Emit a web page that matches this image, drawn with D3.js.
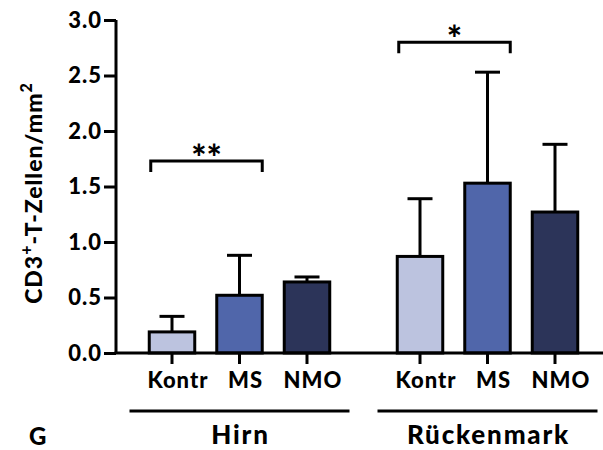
<!DOCTYPE html>
<html><head><meta charset="utf-8">
<script src="https://cdn.jsdelivr.net/npm/d3@7"></script>
<style>
html,body{margin:0;padding:0;background:#fff;}
text{font-family:Lato, "Open Sans", sans-serif;font-weight:900;fill:#000;}
</style></head>
<body><svg id="c" width="603" height="450"></svg>
<script>
const groups = ["Hirn", "Rückenmark"];
const categories = ["Kontr", "MS", "NMO"];
const hirnMeans = [0.19, 0.52, 0.64];
const hirnErrors = [0.14, 0.36, 0.045];
const rueckenmarkMeans = [0.87, 1.53, 1.27];
const rueckenmarkErrors = [0.52, 1.0, 0.61];
const yTicks = [0, 0.5, 1.0, 1.5, 2.0, 2.5, 3.0];
const significance = [
  {group: "Hirn", from: "Kontr", to: "MS", level: 1.73, label: "**"},
  {group: "Rückenmark", from: "Kontr", to: "MS", level: 2.80, label: "*"}
];
const colors = ["#bcc3df", "#5066aa", "#2c3459"];

const svg = d3.select("#c");
const axisX0 = 116, axisY0 = 353, yTop = 20;

const y = d3.scaleLinear().domain([0, 3]).range([axisY0, yTop]);
const xGroup = d3.scaleBand().domain(groups).range([138.25, 588.75]).paddingInner(0.1835).paddingOuter(0);
const xCat = d3.scaleBand().domain(categories).range([0, xGroup.bandwidth()]).paddingInner(0.326).paddingOuter(0.163);

const data = [];
groups.forEach((g, gi) => {
  const means = gi === 0 ? hirnMeans : rueckenmarkMeans;
  const errs = gi === 0 ? hirnErrors : rueckenmarkErrors;
  categories.forEach((c, ci) => data.push({group: g, cat: c, ci, mean: means[ci], err: errs[ci]}));
});
const xl = d => xGroup(d.group) + xCat(d.cat);
const xc = d => xl(d) + xCat.bandwidth() / 2;

// error bars (drawn before bars so bar covers lower part)
const eg = svg.append("g").attr("stroke", "#000").attr("stroke-width", 3);
eg.selectAll("line.v").data(data).join("line")
  .attr("x1", xc).attr("x2", xc)
  .attr("y1", d => y(d.mean)).attr("y2", d => y(d.mean + d.err));
eg.selectAll("line.cap").data(data).join("line")
  .attr("x1", d => xc(d) - 12.5).attr("x2", d => xc(d) + 12.5)
  .attr("y1", d => y(d.mean + d.err)).attr("y2", d => y(d.mean + d.err));

// bars
svg.append("g").selectAll("rect").data(data).join("rect")
  .attr("x", xl).attr("width", xCat.bandwidth())
  .attr("y", d => y(d.mean)).attr("height", d => y(0) - y(d.mean))
  .attr("fill", d => colors[d.ci]).attr("stroke", "#000").attr("stroke-width", 3);

// y axis
const yAxis = svg.append("g").attr("transform", `translate(${axisX0},0)`)
  .call(d3.axisLeft(y).tickValues(yTicks).tickFormat(d3.format(".1f")).tickSize(12).tickPadding(2).tickSizeOuter(0));
yAxis.select(".domain").attr("stroke-width", 3).attr("d", `M0,${y(3)}V${axisY0}`);
yAxis.selectAll(".tick line").attr("stroke-width", 3);
yAxis.selectAll(".tick text").style("font-size", "22px").style("font-family", "Lato")
  .style("font-weight", "900").style("letter-spacing", "1px");

// x axis line + ticks
svg.append("line").attr("x1", axisX0 - 1.5).attr("x2", 603).attr("y1", axisY0).attr("y2", axisY0)
  .attr("stroke", "#000").attr("stroke-width", 3);
svg.append("g").selectAll("line").data(data).join("line")
  .attr("x1", xc).attr("x2", xc).attr("y1", axisY0).attr("y2", axisY0 + 11)
  .attr("stroke", "#000").attr("stroke-width", 3);
svg.append("g").selectAll("text").data(data).join("text")
  .attr("x", d => xc(d) + 6).attr("y", 388).attr("text-anchor", "middle")
  .style("font-size", "22px").style("letter-spacing", "1px").text(d => d.cat);

// group lines & labels
svg.append("g").selectAll("line").data(groups).join("line")
  .attr("x1", g => xGroup(g) + xGroup.bandwidth() / 2 - 110)
  .attr("x2", g => xGroup(g) + xGroup.bandwidth() / 2 + 110)
  .attr("y1", 411).attr("y2", 411).attr("stroke", "#000").attr("stroke-width", 3);
svg.append("g").selectAll("text").data(groups).join("text")
  .attr("x", g => xGroup(g) + xGroup.bandwidth() / 2 + 1).attr("y", 444).attr("text-anchor", "middle")
  .style("font-size", "26px").style("letter-spacing", "1.8px").text(g => g);

// significance brackets
const sg = svg.append("g");
significance.forEach(s => {
  const x1 = xGroup(s.group) + xCat(s.from) + 1.5;
  const x2 = xGroup(s.group) + xCat(s.to) + xCat.bandwidth();
  const yy = y(s.level);
  sg.append("path").attr("d", `M${x1},${yy + 11}V${yy}H${x2}V${yy + 11}`)
    .attr("fill", "none").attr("stroke", "#000").attr("stroke-width", 3);
  sg.append("text").attr("x", (x1 + x2) / 2).attr("y", yy + 10).attr("text-anchor", "middle")
    .style("font-size", "36px").text(s.label);
});

// y title
svg.append("text").attr("transform", `translate(42,${193}) rotate(-90)`).attr("text-anchor", "middle")
  .style("font-size", "23px").style("letter-spacing", "1px")
  .html('CD3<tspan dy="-10" font-size="16px">+</tspan><tspan dy="10">-T-Zellen/mm</tspan><tspan dy="-10" font-size="16px">2</tspan>');

// panel letter
svg.append("text").attr("x", 29).attr("y", 445).style("font-size", "24px").text("G");
</script></body></html>
